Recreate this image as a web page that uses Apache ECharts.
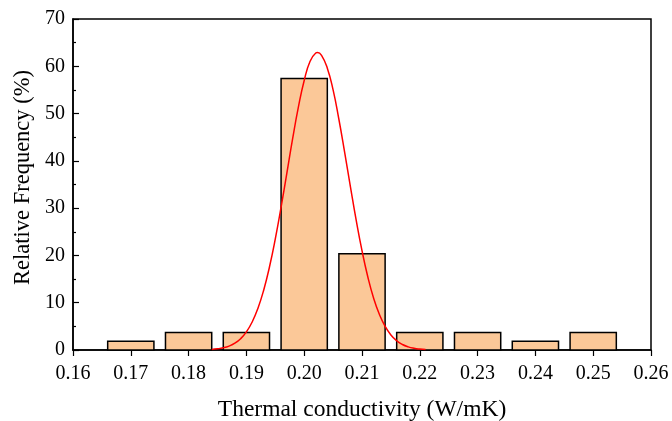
<!DOCTYPE html>
<html>
<head>
<meta charset="utf-8">
<script src="https://cdn.jsdelivr.net/npm/echarts@6/dist/echarts.min.js"></script>
<style>html,body{margin:0;padding:0;background:#fff}#c{width:672px;height:421px}</style>
</head>
<body>
<div id="c"></div>
<script>
// Histogram bins (bin centres) and relative frequencies (%)
const binCenters = [0.17, 0.18, 0.19, 0.20, 0.21, 0.22, 0.23, 0.24, 0.25];
const frequencies = [1.85, 3.70, 3.70, 57.41, 20.37, 3.70, 3.70, 1.85, 3.70];
const binWidth = 0.008;

// Fitted distribution curve
const curveX = [0.184,0.185,0.186,0.187,0.188,0.189,0.190,0.191,0.192,0.193,0.194,0.195,0.196,0.197,0.198,0.199,0.200,0.201,0.202,0.2023,0.203,0.204,0.205,0.206,0.207,0.208,0.209,0.210,0.211,0.212,0.213,0.214,0.215,0.216,0.217,0.218,0.219,0.220,0.221];
const curveY = [0.13,0.25,0.46,0.83,1.43,2.39,3.83,5.93,8.84,12.7,17.6,23.5,30.2,37.4,44.7,51.4,57.0,61.0,62.8,62.9,62.3,59.6,55.0,48.8,41.8,34.5,27.4,21.0,15.5,11.0,7.57,5.01,3.19,1.96,1.16,0.66,0.36,0.19,0.10];

const xTicks = { min: 0.16, max: 0.26, interval: 0.01 };
const yTicks = { min: 0, max: 70, interval: 10 };

const barData = binCenters.map((c, i) => [c, frequencies[i]]);
const curveData = curveX.map((x, i) => [x, curveY[i]]);

const chart = echarts.init(document.getElementById('c'), null, { renderer: 'canvas' });
const font = '"Liberation Serif", "Times New Roman", serif';

chart.setOption({
  animation: false,
  backgroundColor: '#fff',
  grid: { left: 73, right: 21, top: 19, bottom: 71, containLabel: false, outerBoundsMode: 'none', show: true, borderColor: '#000', borderWidth: 1.5, backgroundColor: 'transparent' },
  xAxis: {
    type: 'value', min: xTicks.min, max: xTicks.max, interval: xTicks.interval,
    name: 'Thermal conductivity (W/mK)', nameLocation: 'middle', nameGap: 48,
    nameTextStyle: { fontFamily: font, fontSize: 23.5, color: '#000' },
    axisLine: { show: true, lineStyle: { color: '#000', width: 1.5 } },
    axisTick: { show: true, inside: false, length: 6, lineStyle: { color: '#000', width: 1.2 } },
    minorTick: { show: false },
    splitLine: { show: false },
    axisLabel: { fontFamily: font, fontSize: 20, color: '#000', margin: 14, formatter: v => v.toFixed(2) }
  },
  yAxis: {
    type: 'value', min: yTicks.min, max: yTicks.max, interval: yTicks.interval,
    name: 'Relative Frequency (%)', nameLocation: 'middle', nameGap: 37,
    nameTextStyle: { fontFamily: font, fontSize: 22.5, color: '#000', padding: [0, 0, 0, 14] },
    axisLine: { show: true, lineStyle: { color: '#000', width: 1.5 } },
    axisTick: { show: true, inside: true, length: 6, lineStyle: { color: '#000', width: 1.2 } },
    minorTick: { show: true, splitNumber: 2, length: 3, lineStyle: { color: '#000', width: 1.2 } },
    splitLine: { show: false },
    axisLabel: { fontFamily: font, fontSize: 20, color: '#000', margin: 8 }
  },
  series: [
    {
      type: 'custom',
      data: barData,
      renderItem: function (params, api) {
        const x = api.value(0), y = api.value(1);
        const p0 = api.coord([x - binWidth / 2, y]);
        const p1 = api.coord([x + binWidth / 2, 0]);
        return {
          type: 'rect',
          shape: { x: p0[0], y: p0[1], width: p1[0] - p0[0], height: p1[1] - p0[1] },
          style: { fill: '#FBC898', stroke: '#000', lineWidth: 1.5 }
        };
      },
      z: 2
    },
    {
      type: 'line',
      data: curveData,
      smooth: true,
      symbol: 'none',
      lineStyle: { color: '#FF0000', width: 1.5 },
      z: 3
    }
  ]
});
</script>
</body>
</html>
